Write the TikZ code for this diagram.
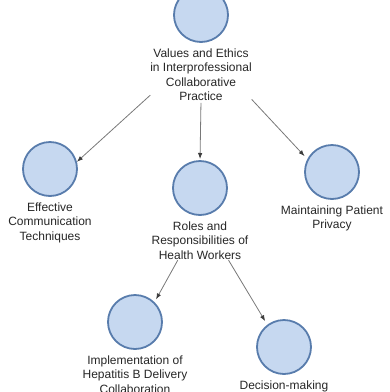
\documentclass[tikz,border=0pt]{standalone}
\usepackage{fontspec}
\setmainfont{Liberation Sans}
\usetikzlibrary{arrows.meta,positioning}
\definecolor{cfill}{RGB}{198,216,240}
\definecolor{cdraw}{RGB}{88,124,172}
\definecolor{cline}{RGB}{120,120,120}
\definecolor{ctip}{RGB}{60,60,60}
\begin{document}
\begin{tikzpicture}[x=1pt,y=-1pt,
  topic/.style={circle,draw=cdraw,fill=cfill,line width=1.8pt,minimum size=54pt,inner sep=0pt,outer sep=0pt},
  lbl/.style={align=center,inner sep=0pt,outer sep=0pt,font=\fontsize{12}{14.5}\selectfont,text=black!85},
  link/.style={draw=cline,line width=0.8pt,-{Latex[length=6pt,width=4.5pt,fill=ctip,color=ctip]}}]
\useasboundingbox (0,0) rectangle (390,392);
\node[topic] (c0) at (201,15) {};
\node[lbl,below=6.5pt of c0] (c0l) {Values and Ethics\\in Interprofessional\\Collaborative\\Practice};
\node[topic] (c1) at (50,169) {};
\node[lbl,below=6.5pt of c1] (c1l) {Effective\\Communication\\Techniques};
\node[topic] (c2) at (200,188) {};
\node[lbl,below=6.5pt of c2] (c2l) {Roles and\\Responsibilities of\\Health Workers};
\node[topic] (c3) at (332,172) {};
\node[lbl,below=6.5pt of c3] (c3l) {Maintaining Patient\\Privacy};
\node[topic] (c4) at (135,322) {};
\node[lbl,below=6.5pt of c4] (c4l) {Implementation of\\Hepatitis B Delivery\\Collaboration};
\node[topic] (c5) at (284,347) {};
\node[lbl,below=6.5pt of c5] (c5l) {Decision-making};
\draw[link,shorten >=1pt] (c0l.-158) -- (c1.14);
\draw[link,shorten <=2pt,shorten >=2pt] (c0l.south) -- (c2.north);
\draw[link,shorten >=5pt] (c0l.-26) -- (c3.153);
\draw[link,shorten <=1pt,shorten >=4pt] (c2l.-139) -- (c4.45);
\draw[link,shorten <=1pt,shorten >=5pt] (c2l.-34) -- (c5.127);
\end{tikzpicture}
\end{document}
